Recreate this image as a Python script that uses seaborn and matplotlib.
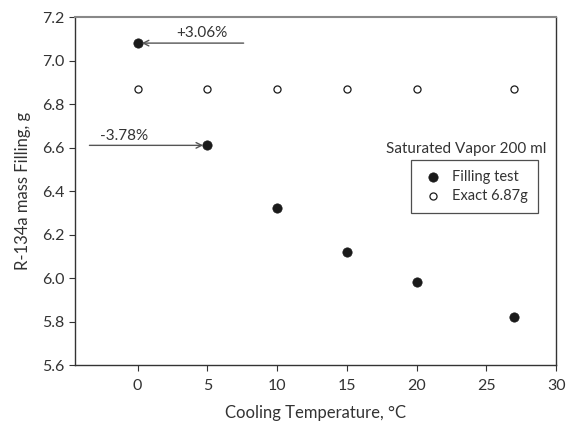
import numpy as np
import pandas as pd
import matplotlib
matplotlib.use("Agg")
import matplotlib.pyplot as plt
import seaborn as sns

# data
temps = [0, 5, 10, 15, 20, 27]
filling_test = [7.08, 6.61, 6.32, 6.12, 5.98, 5.82]
exact_value = 6.87
exact = [exact_value] * len(temps)

sns.set_style("ticks")
plt.rcParams['font.family'] = ['Lato', 'DejaVu Sans']
plt.rcParams['text.color'] = '#333333'
plt.rcParams['axes.labelcolor'] = '#333333'
plt.rcParams['xtick.color'] = '#333333'
plt.rcParams['ytick.color'] = '#333333'

df = pd.DataFrame({"temp": temps, "test": filling_test, "exact": exact})

fig, ax = plt.subplots(figsize=(5.71, 4.25), dpi=100)
fig.subplots_adjust(left=0.131, right=0.974, top=0.96, bottom=0.141)

sns.scatterplot(data=df, x="temp", y="test", ax=ax, color="#1a1a1a", s=45,
                edgecolor="#1a1a1a", linewidth=0.5, label="Filling test", zorder=3)
sns.scatterplot(data=df, x="temp", y="exact", ax=ax, facecolor="white", s=26,
                edgecolor="#1a1a1a", linewidth=0.9, label="Exact 6.87g", zorder=3)

ax.set_xlim(-4.5, 30)
ax.set_ylim(5.6, 7.2)
ax.set_xticks([0, 5, 10, 15, 20, 25, 30])
ax.set_yticks(np.arange(5.6, 7.21, 0.2))
ax.yaxis.set_major_formatter(matplotlib.ticker.FormatStrFormatter('%.1f'))
ax.tick_params(labelsize=11.5, length=4, width=0.8, color='#333333')
ax.tick_params(axis="x", pad=6)
for side in ["left", "bottom", "right"]:
    ax.spines[side].set_color('#333333')
    ax.spines[side].set_linewidth(1.0)
ax.spines["top"].set_color('#888888')
ax.spines["top"].set_linewidth(1.5)

ax.set_xlabel("Cooling Temperature, °C", fontsize=12, labelpad=9)
ax.set_ylabel("R-134a mass Filling, g", fontsize=12, labelpad=8)

# arrows with percentage deviations
arrow = dict(arrowstyle="->", color="#555555", lw=1.0, shrinkA=0, shrinkB=3)
ax.annotate("", xy=(0, filling_test[0]), xytext=(7.6, filling_test[0]), arrowprops=arrow)
ax.text(4.6, filling_test[0] + 0.012, "+3.06%", ha="center", va="bottom", fontsize=11)
ax.annotate("", xy=(5, filling_test[1]), xytext=(-3.45, filling_test[1]), arrowprops=arrow)
ax.text(-1.0, filling_test[1] + 0.012, "-3.78%", ha="center", va="bottom", fontsize=11)

ax.text(29.3, 6.595, "Saturated Vapor 200 ml", ha="right", va="center", fontsize=11)

leg = ax.legend(loc="upper left", bbox_to_anchor=(0.699, 0.589), fontsize=10.5,
                frameon=True, fancybox=False, edgecolor="#222222", borderaxespad=0,
                handletextpad=0.5, borderpad=0.7, labelspacing=0.3, handlelength=1.6)
leg.get_frame().set_linewidth(0.9)

fig.savefig("out.png", dpi=100)
